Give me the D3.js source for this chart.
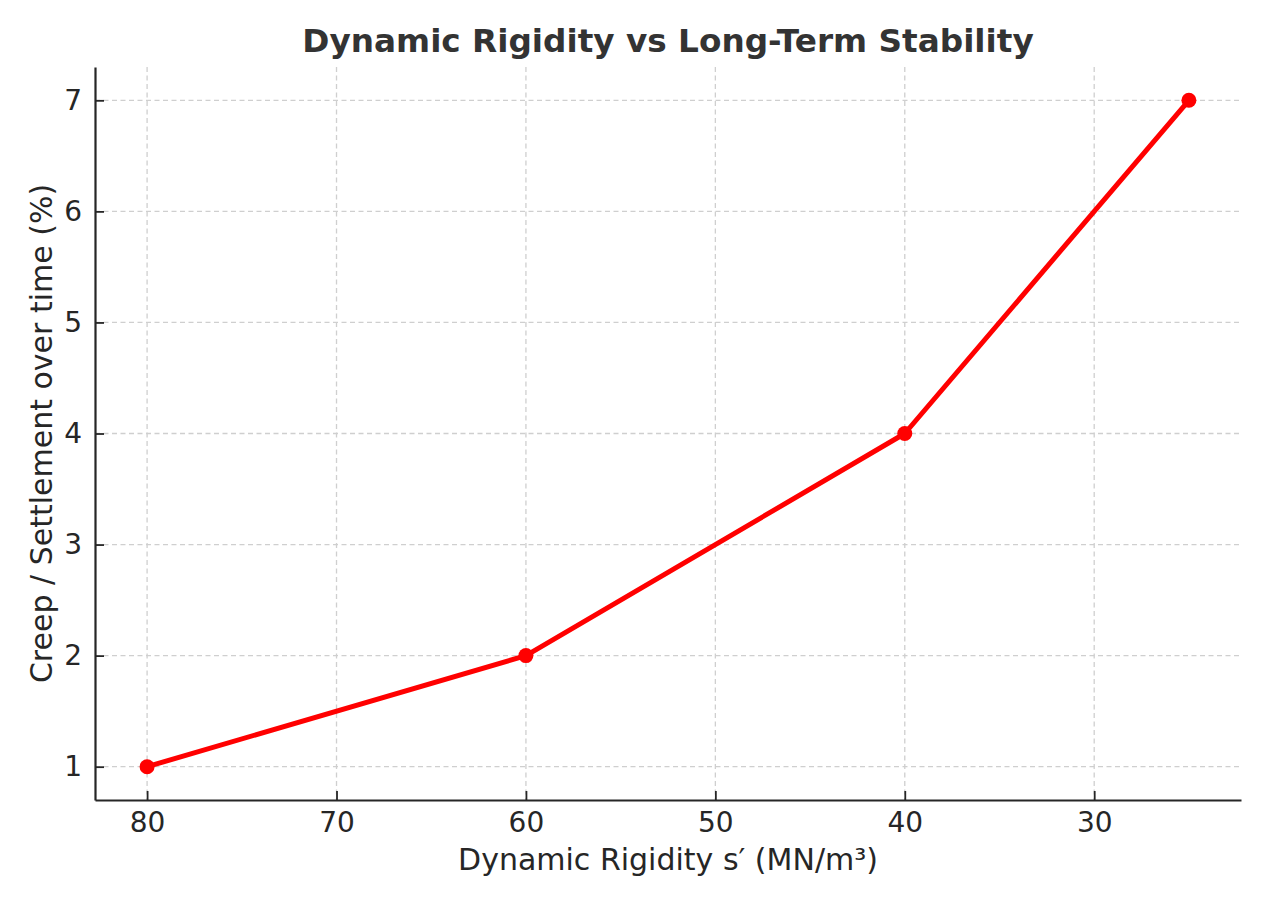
<!DOCTYPE html>
<html><head><meta charset="utf-8">
<script src="https://cdn.jsdelivr.net/npm/d3@7"></script>
<style>body{margin:0;background:#fff;} svg{display:block;}</style>
</head><body>
<svg id="c" width="1269" height="906"></svg>
<script>
const rigidity = [80, 60, 40, 25];
const creep = [1, 2, 4, 7];
const xTicks = [80, 70, 60, 50, 40, 30];
const yTicks = [1, 2, 3, 4, 5, 6, 7];
const title = "Dynamic Rigidity vs Long-Term Stability";
const xLabel = "Dynamic Rigidity s\u2032 (MN/m\u00B3)";
const yLabel = "Creep / Settlement over time (%)";

const svg = d3.select("#c");
const L = 95, R = 1241, T = 67, B = 800;
const font = "DejaVu Sans, sans-serif";
const x = d3.scaleLinear().domain([82.75, 22.25]).range([L, R]);
const y = d3.scaleLinear().domain([0.7, 7.3]).range([B, T]);

// grid
const g = svg.append("g");
g.selectAll(".gx").data(xTicks).join("line")
  .attr("x1", d => x(d)).attr("x2", d => x(d)).attr("y1", T).attr("y2", B)
  .attr("stroke", "#cfcfcf").attr("stroke-width", 1.3).attr("stroke-dasharray", "5,3.5");
g.selectAll(".gy").data(yTicks).join("line")
  .attr("y1", d => y(d)).attr("y2", d => y(d)).attr("x1", L).attr("x2", R)
  .attr("stroke", "#cfcfcf").attr("stroke-width", 1.3).attr("stroke-dasharray", "5,3.5");

// axes
const xAxis = d3.axisBottom(x).tickValues(xTicks).tickFormat(d3.format("d")).tickSizeInner(-9).tickSizeOuter(0).tickPadding(12);
const yAxis = d3.axisLeft(y).tickValues(yTicks).tickFormat(d3.format("d")).tickSizeInner(-9).tickSizeOuter(0).tickPadding(13);
const gx = svg.append("g").attr("transform", `translate(0,${B})`).call(xAxis);
const gy = svg.append("g").attr("transform", `translate(${L},0)`).call(yAxis);
[gx, gy].forEach(a => {
  a.attr("font-size", null).attr("font-family", null);
  a.select(".domain").attr("stroke", "#262626").attr("stroke-width", 2.2);
  a.selectAll(".tick line").attr("stroke", "#262626").attr("stroke-width", 1.8);
  a.selectAll(".tick text").attr("fill", "#262626").style("font-family", font).style("font-size", "28px");
});

// line
const line = d3.line().x((d, i) => x(rigidity[i])).y(d => y(d));
svg.append("path").datum(creep).attr("d", line)
  .attr("fill", "none").attr("stroke", "#ff0000").attr("stroke-width", 5).attr("stroke-linejoin", "round");
svg.selectAll(".pt").data(creep).join("circle")
  .attr("cx", (d, i) => x(rigidity[i])).attr("cy", d => y(d)).attr("r", 7.5).attr("fill", "#ff0000");

// labels
svg.append("text").attr("x", (L + R) / 2).attr("y", 52).attr("text-anchor", "middle")
  .style("font-family", font).style("font-size", "32.7px").style("font-weight", "bold").attr("fill", "#333333").text(title);
svg.append("text").attr("x", (L + R) / 2).attr("y", 870).attr("text-anchor", "middle")
  .style("font-family", font).style("font-size", "30px").attr("fill", "#262626").text(xLabel);
svg.append("text").attr("transform", `translate(52,${(T + B) / 2}) rotate(-90)`).attr("text-anchor", "middle")
  .style("font-family", font).style("font-size", "30px").attr("fill", "#262626").text(yLabel);
</script>
</body></html>
